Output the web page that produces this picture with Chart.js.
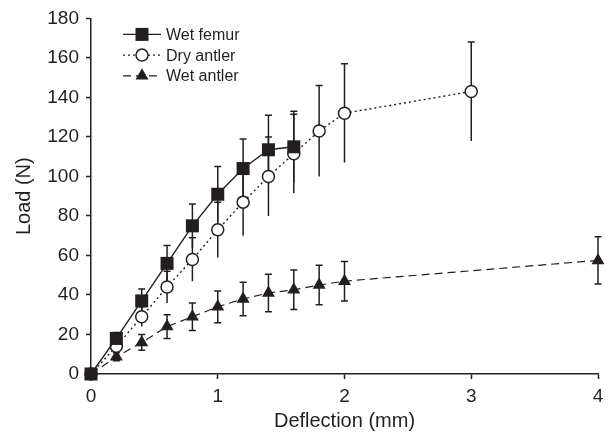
<!DOCTYPE html>
<html>
<head>
<meta charset="utf-8">
<script src="https://cdn.jsdelivr.net/npm/chart.js@4/dist/chart.umd.min.js"></script>
<style>
  body { margin: 0; background: #fff; }
</style>
</head>
<body>
<canvas id="chart" width="613" height="434"></canvas>
<script>
// Deflection (mm) and load (N)
const femurX = [0, 0.2, 0.4, 0.6, 0.8, 1.0, 1.2, 1.4, 1.6];
const femurY = [0, 18, 37, 56, 75, 91, 104, 113.5, 115];
const femurErr = [0, 3, 6, 9, 11, 14, 15, 17.5, 18];

const dryX = [0, 0.2, 0.4, 0.6, 0.8, 1.0, 1.2, 1.4, 1.6, 1.8, 2.0, 3.0];
const dryY = [0, 14, 29, 44, 58, 73, 87, 100, 111.5, 123, 132, 143];
const dryErr = [0, 3, 5, 8, 11, 14, 17, 20, 20, 23, 25, 25];

const wetX = [0, 0.2, 0.4, 0.6, 0.8, 1.0, 1.2, 1.4, 1.6, 1.8, 2.0, 4.0];
const wetY = [0, 8.7, 16, 24, 29, 34, 38, 41, 42.6, 45, 47, 57.5];
const wetErr = [0, 2, 4, 6, 7, 8, 8.5, 9.5, 10, 10, 10, 12];

const xTicks = [0, 1, 2, 3, 4];
const yTicks = [0, 20, 40, 60, 80, 100, 120, 140, 160, 180];

const ink = '#231f20';
const font = 'Liberation Sans, Arial, Helvetica, sans-serif';

function pts(xs, ys) {
    return xs.map((x, i) => ({ x: x, y: ys[i] }));
}

let data = {
    datasets: [{
        label: 'Wet femur',
        data: pts(femurX, femurY),
        err: femurErr,
        capBottom: false,
        borderColor: ink,
        backgroundColor: ink,
        borderWidth: 1.4,
        pointStyle: 'rect',
        pointRadius: 9.2,
        pointBorderWidth: 0,
        clip: false
    },
    {
        label: 'Dry antler',
        data: pts(dryX, dryY),
        err: dryErr,
        capBottom: false,
        borderColor: ink,
        backgroundColor: '#fff',
        borderWidth: 1.4,
        borderDash: [2, 3],
        pointStyle: 'circle',
        pointRadius: 6,
        pointBorderWidth: 1.5,
        clip: false
    },
    {
        label: 'Wet antler',
        data: pts(wetX, wetY),
        err: wetErr,
        capBottom: true,
        borderColor: ink,
        backgroundColor: ink,
        borderWidth: 1.2,
        borderDash: [8, 5],
        pointStyle: 'triangle',
        pointRadius: 7.5,
        pointBorderWidth: 0,
        clip: false
    }]
};

// vertical error bars, drawn behind the lines and markers
const errorBars = {
    id: 'errorBars',
    beforeDatasetsDraw(chart) {
        const ctx = chart.ctx;
        const yScale = chart.scales.y;
        ctx.save();
        ctx.strokeStyle = ink;
        ctx.lineWidth = 1.5;
        ctx.setLineDash([]);
        chart.data.datasets.forEach((ds, i) => {
            const meta = chart.getDatasetMeta(i);
            meta.data.forEach((pt, j) => {
                const e = ds.err[j];
                if (!e) return;
                const v = ds.data[j].y;
                const top = yScale.getPixelForValue(v + e);
                const bot = yScale.getPixelForValue(v - e);
                ctx.beginPath();
                ctx.moveTo(pt.x, top);
                ctx.lineTo(pt.x, bot);
                ctx.moveTo(pt.x - 3.5, top);
                ctx.lineTo(pt.x + 3.5, top);
                if (ds.capBottom) {
                    ctx.moveTo(pt.x - 3.5, bot);
                    ctx.lineTo(pt.x + 3.5, bot);
                }
                ctx.stroke();
            });
        });
        ctx.restore();
    }
};

// legend box in the top left corner of the plot, line sample with marker
const lineLegend = {
    id: 'lineLegend',
    afterDraw(chart) {
        const ctx = chart.ctx;
        const area = chart.chartArea;
        const x0 = area.left + 32;
        ctx.save();
        chart.data.datasets.forEach((ds, i) => {
            const y = area.top + 16 + i * 20.7;
            ctx.strokeStyle = ink;
            ctx.lineWidth = ds.borderWidth;
            ctx.setLineDash(ds.borderDash || []);
            ctx.beginPath();
            ctx.moveTo(x0, y);
            ctx.lineTo(x0 + 38, y);
            ctx.stroke();
            ctx.setLineDash([]);
            ctx.fillStyle = ds.backgroundColor;
            ctx.lineWidth = ds.pointBorderWidth;
            Chart.helpers.drawPoint(ctx, {
                pointStyle: ds.pointStyle,
                radius: ds.pointRadius,
                rotation: 0,
                borderWidth: ds.pointBorderWidth
            }, x0 + 19, y);
            ctx.fillStyle = ink;
            ctx.font = '16px ' + font;
            ctx.textBaseline = 'middle';
            ctx.textAlign = 'left';
            ctx.fillText(ds.label, x0 + 43, y + 1);
        });
        ctx.restore();
    }
};

const config = {
    type: 'line',
    data: data,
    options: {
        responsive: false,
        animation: false,
        devicePixelRatio: 1,
        layout: {
            padding: { top: 16, right: 15, left: 0, bottom: 0 }
        },
        plugins: {
            legend: { display: false },
            tooltip: { enabled: false }
        },
        scales: {
            x: {
                type: 'linear',
                min: 0,
                max: 4,
                afterFit: (s) => { s.height = 60; },
                afterBuildTicks: (s) => { s.ticks = xTicks.map(v => ({ value: v })); },
                grid: { drawOnChartArea: false, drawTicks: true, tickLength: 5, tickWidth: 1.5, color: ink },
                border: { color: ink, width: 1.5 },
                ticks: { color: ink, padding: 6, font: { family: font, size: 19 } },
                title: {
                    display: true,
                    text: 'Deflection (mm)',
                    color: ink,
                    font: { family: font, size: 20 },
                    padding: { top: 0, bottom: 1 }
                }
            },
            y: {
                type: 'linear',
                min: 0,
                max: 180,
                afterFit: (s) => { s.width = 91; },
                afterBuildTicks: (s) => { s.ticks = yTicks.map(v => ({ value: v })); },
                grid: { drawOnChartArea: false, drawTicks: true, tickLength: 5, tickWidth: 1.5, color: ink },
                border: { color: ink, width: 1.5 },
                ticks: { color: ink, padding: 7, font: { family: font, size: 19 } },
                title: {
                    display: true,
                    text: 'Load (N)',
                    color: ink,
                    font: { family: font, size: 20 },
                    padding: { top: 12, bottom: 0 }
                }
            }
        }
    },
    plugins: [errorBars, lineLegend]
};

const ctx = document.getElementById('chart');

new Chart(ctx, config);
</script>
</body>
</html>
